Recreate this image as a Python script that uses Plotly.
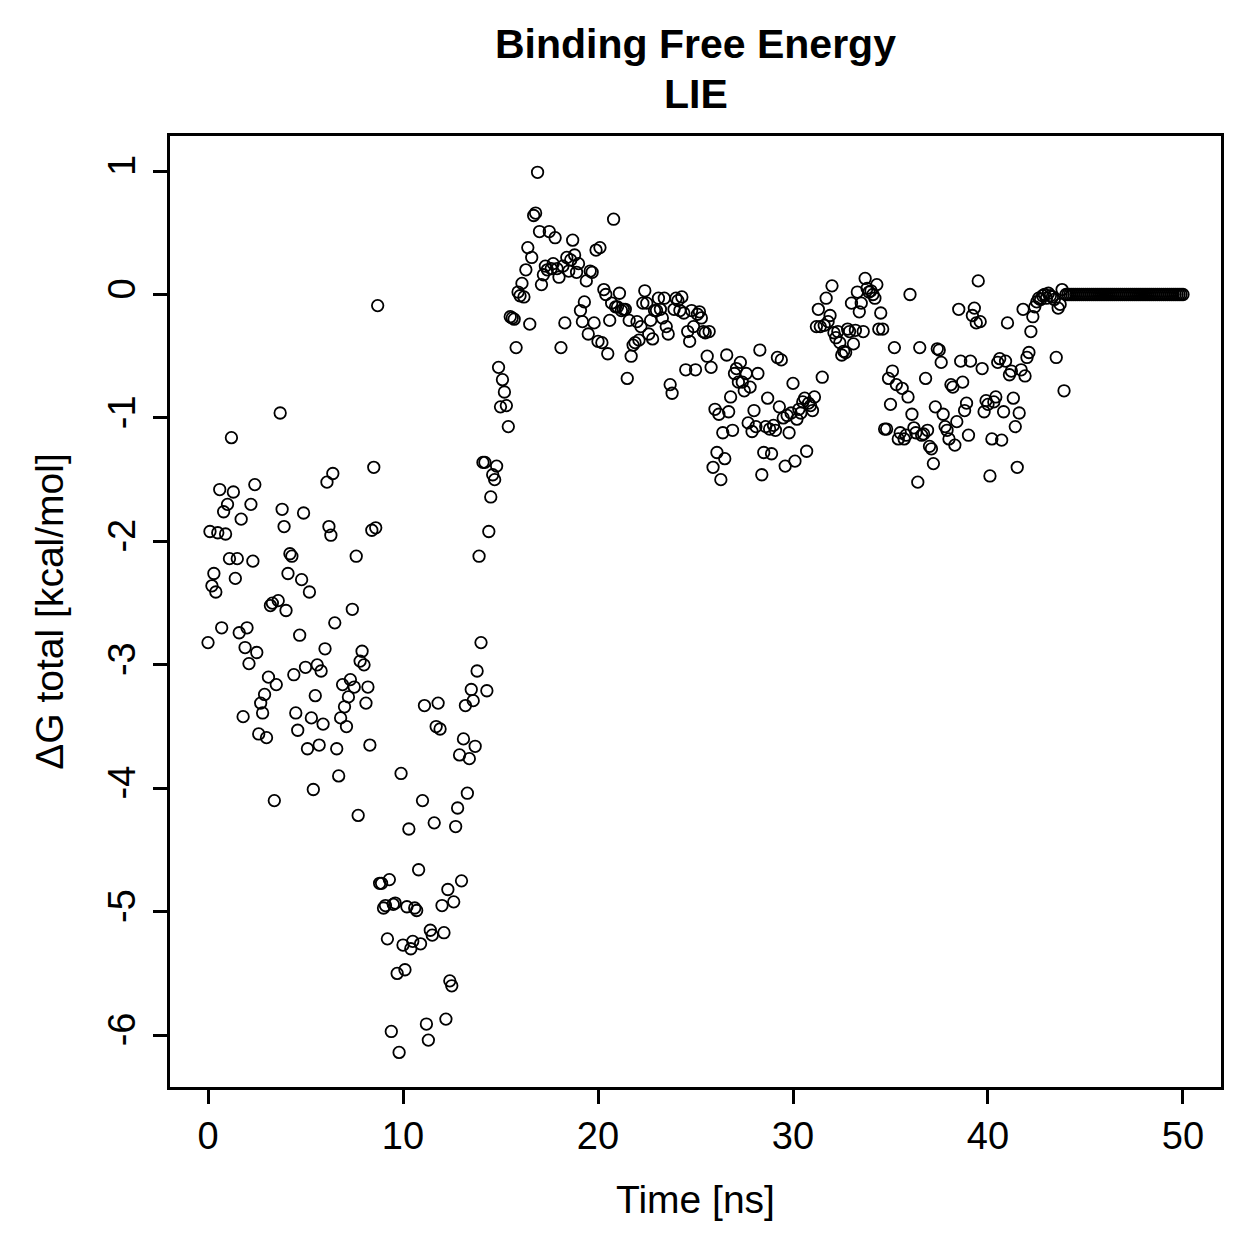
import plotly.graph_objects as go

# Sampling: one frame every 0.1 ns, 0 .. 50 ns
n_frames = 501
step_ns = 0.1

# Delta G total [kcal/mol], in time order
dG_0_9 = [-2.82, -1.92, -2.36, -2.26, -2.41, -1.93, -1.58, -2.70, -1.76, -1.94,
          -1.70, -2.14, -1.16, -1.60, -2.30, -2.14, -2.74, -1.82, -3.42, -2.86,
          -2.70, -2.99, -1.70, -2.16, -1.54, -2.90, -3.56, -3.31, -3.39, -3.24,
          -3.59, -3.10, -2.52, -2.50, -4.10, -3.16, -2.48, -0.96, -1.74, -1.88,
          -2.56, -2.26, -2.10, -2.12, -3.08, -3.39, -3.53, -2.76, -2.31, -1.77,
          -3.02, -3.68, -2.41, -3.43, -4.01, -3.25, -3.00, -3.65, -3.05, -3.48,
          -2.87, -1.52, -1.88, -1.95, -1.45, -2.66, -3.68, -3.90, -3.43, -3.16,
          -3.34, -3.50, -3.26, -3.12, -2.55, -3.18, -2.12, -4.22, -2.97, -2.89,
          -3.00, -3.31, -3.18, -3.65, -1.91, -1.40, -1.89, -0.09]

dG_9_15 = [-4.77, -4.77, -4.97, -4.95, -5.22, -4.74, -5.97, -4.94, -4.93, -5.50,
           -6.14, -3.88, -5.27, -5.47, -4.96, -4.33, -5.30, -5.24, -4.97, -4.99,
           -4.66, -5.26, -4.10, -3.33, -5.91, -6.04, -5.15, -5.19, -4.28, -3.50,
           -3.31, -3.52, -4.95, -5.17, -5.87, -4.82, -5.56, -5.60, -4.92, -4.31,
           -4.16, -3.73, -4.75, -3.60, -3.33, -4.04, -3.76, -3.20, -3.29, -3.66,
           -3.05, -2.12, -2.82,
           -1.36, -1.36, -3.21, -1.92, -1.64, -1.46, -1.50, -1.39]

dG_15_26 = [-0.59, -0.91, -0.69, -0.79, -0.90, -1.07,
            -0.18, -0.19, -0.20, -0.43, 0.02, -0.01, 0.09, -0.02, 0.20, 0.38,
            -0.24, 0.30, 0.64, 0.66, 0.99, 0.51, 0.08, 0.16, 0.23, 0.20,
            0.51, 0.21, 0.25, 0.46, 0.21, 0.14, -0.43, 0.23, -0.23, 0.30,
            0.19, 0.28, 0.44, 0.32, 0.18, 0.25, -0.13, -0.22, -0.06, 0.11,
            -0.32, 0.19, 0.18, -0.23, 0.36, -0.38, 0.38, -0.39, 0.04, 0.00,
            -0.48, -0.21, -0.07, 0.61, -0.10, -0.10, 0.01, -0.13, -0.12, -0.12,
            -0.68, -0.21, -0.50, -0.41, -0.39, -0.22, -0.37, -0.26, -0.07, 0.03,
            -0.07, -0.32, -0.21, -0.36, -0.13, -0.13, -0.03, -0.12, -0.19, -0.03,
            -0.26, -0.32, -0.73, -0.80, -0.12, -0.03, -0.05, -0.13, -0.02, -0.15,
            -0.61, -0.30, -0.38, -0.13, -0.26, -0.61, -0.16, -0.14, -0.19, -0.30,
            -0.31, -0.50, -0.30, -0.59]

dG_26_35 = [-1.40, -0.93, -1.28, -0.97, -1.50, -1.12, -1.33, -0.49, -0.95, -0.83,
            -1.10, -0.64, -0.60, -0.71, -0.55, -0.71, -0.78, -0.64, -1.04, -0.75,
            -1.11, -0.94, -1.07, -0.64, -0.45, -1.46, -1.28, -1.07, -0.84, -1.09,
            -1.29, -1.06, -1.10, -0.51, -0.91, -0.53, -1.00, -1.39, -0.98, -1.12,
            -0.96, -0.72, -1.35, -1.01, -0.93, -0.96, -0.87, -0.84, -1.27, -0.88,
            -0.90, -0.94, -0.83,
            -0.26, -0.12, -0.26, -0.67, -0.25, -0.03, -0.22, -0.17, 0.07, -0.31,
            -0.35, -0.30, -0.39, -0.49, -0.46, -0.47, -0.28, -0.30, -0.07, -0.40,
            -0.29, 0.02, -0.14, -0.07, -0.30, 0.13, 0.05, 0.02, 0.03, 0.00,
            -0.03, 0.08, -0.28, -0.15, -0.28]

dG_35_44 = [-1.09, -1.09, -0.68, -0.89, -0.62, -0.43, -0.73, -1.17, -1.12, -0.76,
            -1.17, -1.14, -0.83, 0.00, -0.97, -1.08, -1.12, -1.52, -0.43, -1.14,
            -1.13, -0.68, -1.10, -1.23, -1.25, -1.37, -0.91, -0.44, -0.45, -0.55,
            -0.97, -1.07, -1.10, -1.17, -0.73, -0.75, -1.22, -1.03, -0.12, -0.54,
            -0.71, -0.94, -0.88, -1.14, -0.54, -0.17, -0.11, -0.23, 0.11, -0.22,
            -0.60, -0.95, -0.86, -0.89, -1.47, -1.17, -0.87, -0.83, -0.55, -0.52,
            -1.18, -0.95, -0.54, -0.23, -0.65, -0.62, -0.84, -1.07, -1.40, -0.96,
            -0.61, -0.12, -0.66, -0.51, -0.47, -0.30, -0.18, -0.10, -0.06, -0.03,
            -0.04, -0.01, 0.00, -0.03, 0.01, -0.01, -0.02, -0.04, -0.51, -0.11,
            -0.08, 0.04, -0.78]

dG_head = dG_0_9 + dG_9_15 + dG_15_26 + dG_26_35 + dG_35_44
dG_tail = [0.0] * (n_frames - len(dG_head))   # flat at 0 after ~43.6 ns
dG = dG_head + dG_tail
time_ns = [round(i * step_ns, 1) for i in range(len(dG))]

x_ticks = [0, 10, 20, 30, 40, 50]
x_tick_text = ["0", "10", "20", "30", "40", "50"]
y_ticks = [-6, -5, -4, -3, -2, -1, 0, 1]
y_tick_text = ["-6", "-5", "-4", "-3", "-2", "-1", "0", "1"]

FONT = "Liberation Sans, Arial, Helvetica, sans-serif"
TICK_SIZE = 38
LABEL_SIZE = 39
TITLE_SIZE = 41

fig = go.Figure()
fig.add_trace(go.Scatter(
    x=time_ns, y=dG, mode="markers",
    marker=dict(symbol="circle-open", size=11.5, color="black",
                line=dict(width=1.8, color="black")),
    showlegend=False,
))

axis_common = dict(
    showgrid=False, zeroline=False, showline=True, mirror=True,
    linecolor="black", linewidth=2.5,
    ticks="outside", ticklen=14, tickwidth=2.5, tickcolor="black",
    tickfont=dict(family=FONT, size=TICK_SIZE, color="black"),
)

fig.update_layout(
    width=1259, height=1259,
    margin=dict(l=170, r=38, t=136, b=172),
    paper_bgcolor="white", plot_bgcolor="white",
    font=dict(family=FONT, color="black"),
    xaxis=dict(range=[-1.95, 51.95], tickvals=x_ticks, ticktext=x_tick_text,
               title=dict(text="Time [ns]", font=dict(family=FONT, size=LABEL_SIZE), standoff=30),
               ticklabelstandoff=0,
               **axis_common),
    yaxis=dict(range=[-6.42, 1.284], tickvals=y_ticks, ticktext=y_tick_text, tickangle=-90,
               title=dict(text="ΔG total [kcal/mol]", font=dict(family=FONT, size=LABEL_SIZE), standoff=26),
               ticklabelstandoff=3,
               **axis_common),
    annotations=[
        dict(text="<b>Binding Free Energy</b>", xref="paper", yref="paper",
             x=0.5, y=1.0967, xanchor="center", yanchor="middle", showarrow=False,
             font=dict(family=FONT, size=TITLE_SIZE, color="black")),
        dict(text="<b>LIE</b>", xref="paper", yref="paper",
             x=0.5, y=1.0441, xanchor="center", yanchor="middle", showarrow=False,
             font=dict(family=FONT, size=TITLE_SIZE, color="black")),
    ],
)

fig.write_html("out.html")
